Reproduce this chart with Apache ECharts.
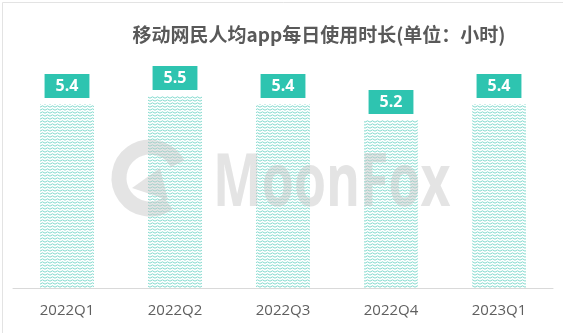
<!DOCTYPE html>
<html><head><meta charset="utf-8">
<script src="https://cdn.jsdelivr.net/npm/echarts@6/dist/echarts.min.js"></script>
<style>html,body{margin:0;padding:0;background:#fff}#c{width:563px;height:333px}</style>
</head><body><div id="c"></div>
<script>
var categories = ['2022Q1','2022Q2','2022Q3','2022Q4','2023Q1'];
var values = [5.4, 5.5, 5.4, 5.2, 5.4];
var titleText = '移动网民人均app每日使用时长(单位：小时)';

function makePattern(){
  var cv = document.createElement('canvas');
  cv.width = 5; cv.height = 3;
  var ctx = cv.getContext('2d');
  ctx.fillStyle = '#ffffff'; ctx.fillRect(0,0,5,3);
  ctx.strokeStyle = '#82d9cd'; ctx.lineWidth = 1;
  ctx.beginPath(); ctx.moveTo(0,2.2); ctx.lineTo(2.5,0.8); ctx.lineTo(5,2.2); ctx.stroke();
  return cv;
}
var chart = echarts.init(document.getElementById('c'), null, {renderer:'canvas'});
chart.setOption({
  animation:false,
  title:{text:titleText,left:314,top:20,textAlign:'center',
    textStyle:{fontFamily:'Noto Sans CJK SC',fontSize:19,fontWeight:'bold',color:'#595959'}},
  grid:{left:13,right:10,top:56,bottom:45},
  xAxis:{type:'category',data:categories,
    axisLine:{lineStyle:{color:'#d9d9d9'}},axisTick:{show:false},
    axisLabel:{margin:15,fontSize:15,color:'#5f5f5f',fontFamily:'Open Sans'}},
  yAxis:{type:'value',min:3.1,max:6,show:false,splitLine:{show:false}},
  series:[{type:'bar',data:values,barWidth:54,
    itemStyle:{color:{image:makePattern(),repeat:'repeat'}},
    label:{show:true,position:'top',distance:6,color:'#fff',fontSize:16,fontWeight:'bold',
      fontFamily:'Open Sans',backgroundColor:'#2ec4b0',padding:[3,11,2,11],lineHeight:19}}],
  graphic:[
    {type:'rect',left:0,top:0,shape:{x:0.5,y:0.5,width:562,height:332},
      style:{fill:'none',stroke:'#e3e3e3',lineWidth:1},silent:true,z:100},
    {type:'arc',shape:{cx:150,cy:178,r:31,startAngle:Math.PI*0.3,endAngle:Math.PI*1.85},
      style:{stroke:'#c4c4c4',lineWidth:15,fill:'none',opacity:0.45},z:100,silent:true},
    {type:'polygon',shape:{points:[[168,200],[132,188],[160,168]]},
      style:{fill:'#c4c4c4',opacity:0.45},z:100,silent:true},
    {type:'text',x:213,y:148,scaleX:0.7,style:{text:'MoonFox',fontSize:74,fontWeight:'bold',
      fontFamily:'Open Sans',fill:'#c4c4c4',opacity:0.45},z:100,silent:true}
  ]
});
</script></body></html>
